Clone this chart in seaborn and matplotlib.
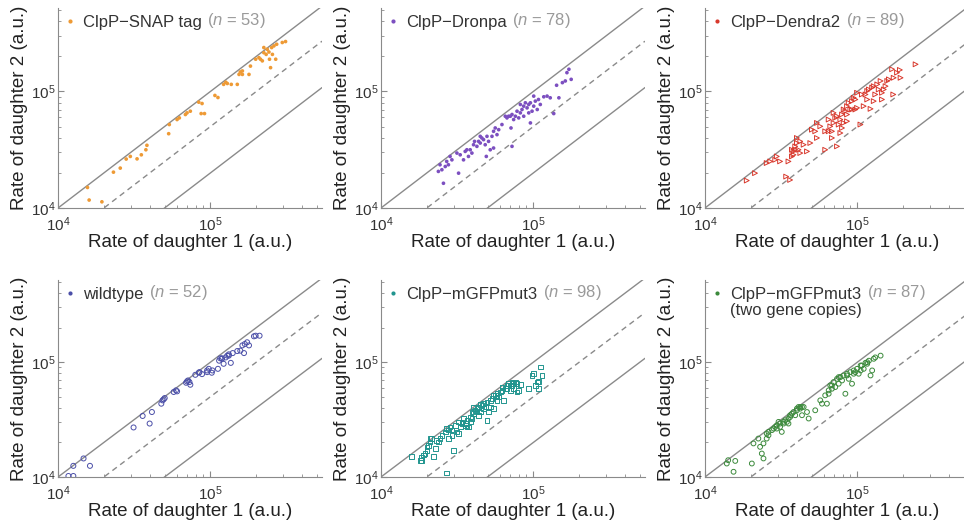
import numpy as np
import matplotlib
matplotlib.use("Agg")
import matplotlib.pyplot as plt
from matplotlib.lines import Line2D
from matplotlib.ticker import NullFormatter
import seaborn as sns

# production rates of the two daughters, in thousands of a.u.
snap_d1 = [15.6, 16.0, 19.4, 23.1, 25.6, 28.0, 29.8, 33.0, 35.2, 37.7, 38.3, 53.2, 62.5, 68.5,
           70.2, 83.8, 88.1, 86.9, 91.4, 107, 112, 122, 126, 137, 150, 154, 157, 162, 179, 183,
           208, 213, 219, 224, 232, 242, 244, 248, 255, 252, 261, 268, 272, 296, 311, 236, 198,
           224, 162, 129, 73.8, 60.4, 53.7]
snap_d2 = [15.0, 11.7, 11.3, 20.3, 22.0, 26.3, 27.7, 26.4, 28.6, 31.6, 34.5, 43.4, 59.3, 63.4,
           65.5, 80.9, 78.8, 64.6, 64.6, 92.4, 88.7, 115, 120, 115, 115, 140, 147, 150, 140, 165,
           195, 189, 183, 215, 208, 218, 189, 160, 208, 238, 246, 189, 254, 263, 268, 230, 189,
           238, 140, 117, 67.7, 57.4, 52.0]

dronpa_d1 = [25.7, 23.8, 26.4, 24.4, 27.0, 28.4, 32.3, 33.1, 34.8, 37.5, 38.5, 39.5, 42.6, 44.8,
             45.9, 47.1, 49.1, 50.8, 53.5, 54.8, 57.7, 56.2, 59.2, 44.8, 43.7, 40.5, 36.6, 31.5,
             54.8, 72.4, 71.3, 67.1, 68.8, 72.4, 74.2, 76.2, 78.1, 82.1, 84.2, 86.4, 90.9, 93.2,
             95.6, 98.0, 100.5, 103, 106, 95.6, 108, 111, 117, 123, 129, 136, 147, 142, 155, 162,
             166, 171, 177, 80.1, 88.6, 93.2, 86.4, 70.6, 65.4, 82.1, 100.5, 62.2, 49.6, 41.1,
             35.7, 29.2, 25.1, 27.7, 48.3, 52.1]
dronpa_d2 = [16.3, 20.6, 22.7, 23.5, 25.1, 27.7, 19.9, 28.6, 25.9, 27.7, 31.6, 29.6, 33.8, 36.1,
             39.9, 38.6, 27.7, 37.3, 41.2, 45.5, 42.6, 48.6, 47.0, 41.2, 37.3, 34.9, 31.6, 29.6,
             32.7, 33.8, 48.6, 59.3, 61.3, 63.4, 57.4, 61.3, 67.7, 65.5, 70.0, 74.8, 72.3, 77.3,
             79.9, 67.7, 74.8, 82.6, 70.0, 53.7, 85.3, 77.3, 90.0, 91.2, 88.2, 64.6, 88.2, 113, 119,
             123, 145, 155, 127, 59.3, 79.9, 65.5, 61.3, 61.3, 61.3, 77.3, 91.2, 52.0, 41.2, 37.3,
             30.6, 25.9, 21.3, 23.5, 34.9, 31.6]

dendra_d1 = [18.8, 21.3, 25.4, 26.8, 28.9, 29.6, 31.1, 35.3, 34.1, 36.2, 37.2, 38.1, 39.1, 40.1,
             41.1, 42.2, 44.4, 46.7, 49.1, 50.3, 52.9, 54.3, 61.5, 61.5, 64.8, 66.4, 68.1, 69.8,
             71.6, 73.5, 73.5, 75.4, 77.3, 79.3, 81.3, 83.4, 85.5, 87.7, 89.9, 92.2, 94.6, 97.0,
             99.5, 104.7, 107, 110, 113, 116, 119, 122, 125, 128, 131, 135, 138, 142, 145, 149,
             153, 157, 161, 169, 172, 173, 182, 190, 192, 241, 79.3, 81.3, 85.5, 92.2, 77.3, 68.1,
             64.8, 42.2, 39.1, 38.1, 37.2, 40.1, 54.3, 57.1, 99.5, 116, 145, 128, 97.0, 85.5, 69.8]
dendra_d2 = [17.2, 19.9, 24.3, 25.1, 25.9, 27.7, 25.1, 25.1, 18.6, 17.4, 27.7, 30.6, 33.8, 36.1,
             31.6, 37.3, 34.9, 30.6, 36.1, 47.0, 45.5, 39.9, 45.5, 31.6, 57.4, 50.2, 45.5, 53.7,
             59.3, 33.8, 61.3, 52.0, 57.4, 63.4, 70.0, 67.7, 74.8, 79.9, 70.0, 82.6, 88.2, 85.3,
             72.3, 52.0, 94.2, 74.8, 94.2, 101, 104, 70.9, 108, 111, 94.2, 115, 104, 123, 85.3, 104,
             111, 123, 127, 155, 94.2, 131, 145, 153, 131, 171, 48.6, 53.7, 63.4, 70.0, 44.0, 39.9,
             45.5, 29.6, 31.6, 28.6, 31.6, 39.9, 53.7, 50.2, 97.4, 85.3, 97.4, 82.6, 70.0, 55.5, 65.5]

wt_d1 = [11.7, 12.6, 12.6, 14.7, 16.2, 31.3, 35.9, 39.9, 41.3, 47.6, 48.5, 49.3, 50.1, 57.4, 59.4,
         69.2, 71.3, 72.8, 73.8, 79.6, 84.7, 88.1, 95.1, 97.5, 103, 102, 112, 114, 116, 119, 122,
         126, 129, 132, 136, 140, 150, 157, 166, 168, 174, 179, 193, 198, 210, 60.4, 70.2, 83.8,
         95.1, 119, 162, 132]
wt_d2 = [10.2, 10.2, 12.5, 14.5, 12.5, 27.0, 34.0, 29.2, 36.8, 43.5, 46.5, 47.5, 48.7, 55.0, 56.8,
         66.2, 69.3, 67.1, 63.6, 77.6, 81.9, 78.7, 81.9, 87.5, 84.7, 80.9, 87.5, 103, 108, 108, 96.8,
         110, 114, 117, 98.6, 120, 125, 126, 120, 144, 149, 140, 168, 170, 170, 55.7, 68.0, 80.9,
         84.7, 107, 140, 114]

gfp_d1 = [15.9, 18.1, 18.5, 19.0, 19.5, 20.0, 20.5, 21.0, 21.5, 22.1, 22.7, 23.8, 24.4, 26.4, 27.0,
          27.7, 28.4, 29.2, 29.9, 32.3, 33.1, 34.0, 34.8, 35.7, 37.5, 38.5, 39.5, 40.5, 41.5, 42.6,
          43.7, 44.8, 45.9, 47.1, 48.3, 49.6, 50.8, 52.1, 53.5, 54.8, 56.2, 57.7, 59.2, 62.2, 63.8,
          65.4, 67.1, 68.8, 70.6, 72.4, 74.2, 76.2, 78.1, 80.1, 82.1, 93.2, 98.0, 100.5, 103, 106,
          108, 111, 27.0, 18.5, 20.0, 21.0, 25.1, 30.7, 34.0, 36.6, 40.5, 44.8, 49.6, 54.8, 60.7,
          67.1, 72.4, 78.1, 35.7, 31.5, 23.2, 38.5, 42.6, 47.1, 52.1, 57.7, 62.2, 70.6, 74.2, 36.6,
          39.5, 43.7, 27.7, 29.2, 32.3, 57.7, 108, 114]
gfp_d2 = [15.0, 14.0, 14.7, 15.5, 16.0, 17.1, 18.9, 20.2, 21.6, 15.0, 17.7, 20.2, 21.6, 24.7, 26.4,
          21.6, 27.3, 25.6, 17.1, 23.9, 27.3, 30.2, 32.3, 29.2, 27.3, 33.3, 36.8, 35.6, 38.1, 39.4,
          40.7, 36.8, 42.1, 43.5, 40.7, 31.2, 36.8, 46.5, 48.1, 39.4, 51.4, 53.1, 49.7, 56.8, 46.5,
          58.7, 62.8, 64.9, 56.8, 62.8, 64.9, 67.1, 55.0, 56.8, 63.6, 58.7, 76.6, 79.3, 62.8, 67.1,
          58.7, 90.5, 10.8, 14.0, 18.3, 21.6, 23.1, 28.2, 29.2, 31.2, 40.7, 42.7, 45.0, 51.4, 55.0,
          58.7, 67.1, 64.9, 28.2, 24.7, 20.9, 30.2, 36.8, 39.4, 40.7, 49.7, 60.7, 62.8, 58.7, 27.3,
          32.3, 34.5, 25.6, 23.1, 30.2, 46.5, 68.0, 76.6]

gfp2_d1 = [13.9, 14.2, 15.8, 15.4, 20.3, 20.8, 22.4, 23.0, 23.6, 24.2, 24.2, 25.4, 26.1, 27.5, 28.2,
           28.9, 29.6, 30.4, 31.1, 31.9, 32.8, 33.6, 34.5, 35.3, 36.2, 37.2, 38.1, 39.1, 40.1, 41.1,
           42.2, 43.3, 44.4, 46.7, 47.9, 52.9, 57.1, 58.6, 61.5, 63.1, 64.8, 66.4, 68.1, 69.8, 71.6,
           73.5, 75.4, 77.3, 79.3, 81.3, 83.4, 85.5, 87.7, 89.9, 92.2, 94.6, 97.0, 99.5, 102, 105,
           107, 110, 113, 116, 119, 122, 125, 128, 131, 142, 25.4, 29.6, 32.8, 36.2, 40.1, 42.2,
           64.8, 68.1, 75.4, 85.5, 94.6, 105, 116, 26.1, 31.1, 35.3, 43.3]
gfp2_d2 = [13.1, 14.0, 13.8, 11.1, 13.1, 19.6, 21.6, 18.3, 16.0, 14.5, 19.6, 23.9, 24.7, 25.6, 26.4,
           27.3, 28.2, 30.2, 27.3, 24.7, 29.2, 31.2, 30.2, 32.3, 33.3, 35.6, 36.8, 34.5, 39.4, 40.7,
           39.4, 34.5, 40.7, 36.8, 32.3, 38.1, 46.5, 43.5, 51.4, 43.5, 56.8, 62.8, 58.7, 67.1, 60.7,
           71.6, 64.9, 74.1, 69.3, 76.6, 53.1, 79.3, 71.6, 81.9, 64.9, 84.7, 81.9, 87.5, 79.3, 84.7,
           93.5, 87.5, 98.6, 100, 103, 76.6, 84.7, 107, 110, 114, 21.6, 26.4, 30.2, 34.5, 38.1, 40.7,
           53.1, 62.8, 74.1, 76.6, 79.3, 93.5, 96.8, 23.1, 29.2, 29.2, 40.7]

labels = ["ClpP\u2212SNAP tag", "ClpP\u2212Dronpa", "ClpP\u2212Dendra2",
          "wildtype", "ClpP\u2212mGFPmut3", "ClpP\u2212mGFPmut3"]
counts = [53, 78, 89, 52, 98, 87]
ratios = [1, 2, 5]  # guide lines y = x / ratio

# style per panel: colour, marker, size, filled
styles = [("#ee9a35", "o", 7, True),
          ("#7c4fc0", "o", 7, True),
          ("#d8382c", ">", 12, False),
          ("#4b4fa8", "o", 13, False),
          ("#22958f", "s", 11, False),
          ("#3c8a3c", "o", 12, False)]

data = [(snap_d1, snap_d2), (dronpa_d1, dronpa_d2), (dendra_d1, dendra_d2),
        (wt_d1, wt_d2), (gfp_d1, gfp_d2), (gfp2_d1, gfp2_d2)]

sns.set_style("ticks")
plt.rcParams["font.family"] = ["Liberation Sans", "DejaVu Sans"]
plt.rcParams["mathtext.fontset"] = "custom"
plt.rcParams["mathtext.rm"] = "Liberation Sans"
plt.rcParams["mathtext.it"] = "Liberation Sans:italic"

fig = plt.figure(figsize=(9.64, 5.23), dpi=100)
lefts = [0.0602, 0.3952, 0.7313]
bottoms = [0.6023, 0.0880]
heights = [0.3824, 0.3767]
width = 0.2739
xlim = (1e4, 5.4e5)
ylim = (1e4, 5.2e5)
gray = "#8a8a8a"

for i in range(6):
    r, c = divmod(i, 3)
    ax = fig.add_axes([lefts[c], bottoms[r], width, heights[r]])
    ax.set_xscale("log")
    ax.set_yscale("log")

    gx = np.array(xlim)
    for ratio in ratios:
        if ratio == 2:
            ax.plot(gx, gx / ratio, color=gray, lw=1.0, ls=(0, (4, 3)), zorder=1)
        else:
            ax.plot(gx, gx / ratio, color=gray, lw=1.0, ls="-", zorder=1)

    d1, d2 = data[i]
    color, marker, size, filled = styles[i]
    x = np.array(d1) * 1e3
    y = np.array(d2) * 1e3
    if filled:
        sns.scatterplot(x=x, y=y, ax=ax, marker=marker, s=size, color=color,
                        edgecolor="none", linewidth=0, legend=False, zorder=3)
    else:
        sns.scatterplot(x=x, y=y, ax=ax, marker=marker, s=size, color=color,
                        facecolor="none", edgecolor=color, linewidth=0.7,
                        legend=False, zorder=3)

    ax.set_xlim(*xlim)
    ax.set_ylim(*ylim)
    ax.xaxis.set_minor_formatter(NullFormatter())
    ax.yaxis.set_minor_formatter(NullFormatter())
    sns.despine(ax=ax)
    for side in ["left", "bottom"]:
        ax.spines[side].set_color(gray)
        ax.spines[side].set_linewidth(0.8)
    ax.tick_params(which="both", direction="in", color=gray, labelsize=11,
                   labelcolor="#333333")
    ax.tick_params(axis="x", pad=5)
    ax.tick_params(axis="y", pad=2)
    ax.tick_params(which="major", length=4, width=0.8)
    ax.tick_params(which="minor", length=2, width=0.6)
    ax.set_xlabel("Rate of daughter 1 (a.u.)", fontsize=13.5, color="#222222", labelpad=0)
    ax.set_ylabel("Rate of daughter 2 (a.u.)", fontsize=13.5, color="#222222", labelpad=2)

    handle = Line2D([], [], marker="o", linestyle="none", color=color,
                    markersize=3, markeredgewidth=0)
    leg = ax.legend(handles=[handle], labels=[labels[i]], loc="upper left",
                    frameon=False, fontsize=12, handlelength=0.6, handletextpad=0.5,
                    borderaxespad=0.2, borderpad=0.2)
    txt = leg.get_texts()[0]
    txt.set_color("#333333")
    # drawn after the legend so the legend text position is known
    ax.annotate(f"($n$ = {counts[i]})", xy=(1, 0), xycoords=txt, xytext=(4, 0),
                textcoords="offset points", ha="left", va="bottom",
                color="#9a9a9a", fontsize=12, zorder=10)
    if i == 5:
        ax.annotate("(two gene copies)", xy=(0, 0), xycoords=txt, xytext=(0, -1),
                    textcoords="offset points", ha="left", va="top",
                    color="#333333", fontsize=12, zorder=10)

fig.savefig("out.png", dpi=100)
